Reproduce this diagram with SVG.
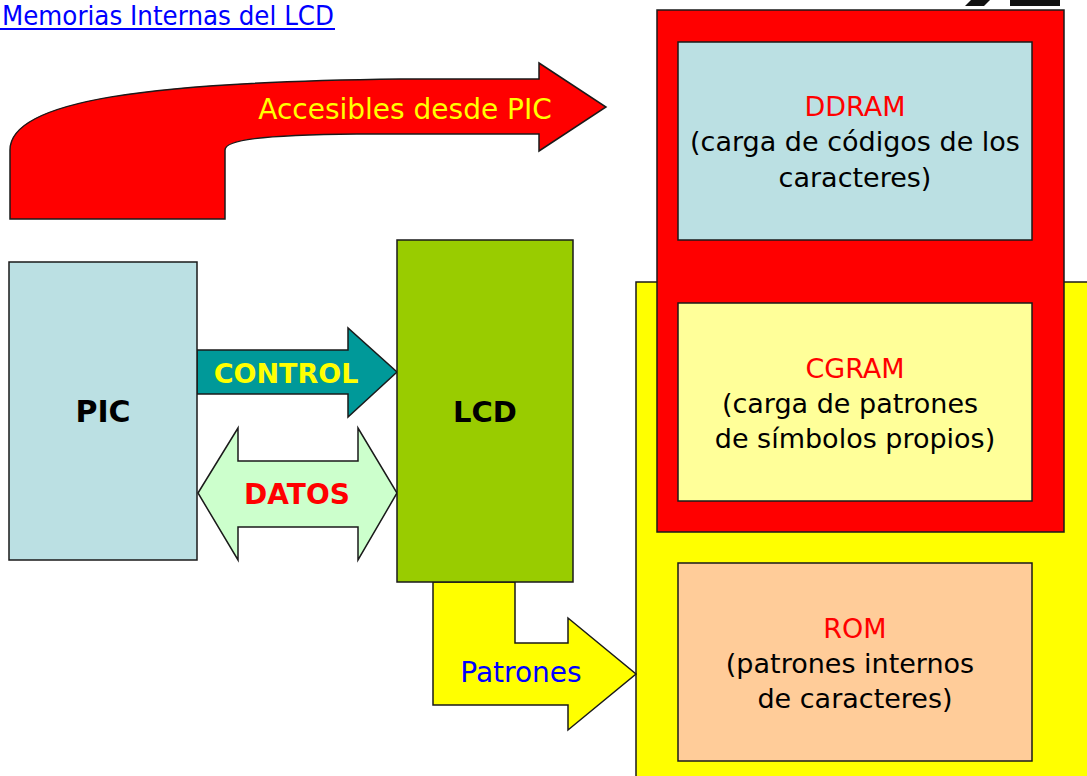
<svg xmlns="http://www.w3.org/2000/svg" width="1087" height="776" viewBox="0 0 1087 776">
<style>
.o{stroke:#1a1a1a;stroke-width:1.5}
.t{font-family:"DejaVu Sans",sans-serif;text-anchor:middle}
.m{font-size:27px;fill:#000}
.b{font-weight:bold}
</style>
<rect width="1087" height="776" fill="#fff"/>
<g id="title">
<text x="2" y="25" textLength="332" lengthAdjust="spacingAndGlyphs" style="font-family:'DejaVu Sans',sans-serif;font-size:27px;fill:#0000ff">Memorias Internas del LCD</text>
<line x1="0" y1="29" x2="335" y2="29" stroke="#0000ff" stroke-width="2"/>
</g>
<g id="logo">
<polygon points="965,6 971,0 990,0 984,6" fill="#111"/>
<rect x="1010" y="0" width="50" height="6" fill="#111"/>
</g>
<g id="mem-yellow"><rect x="636" y="282" width="470" height="510" fill="#ffff00" class="o"/></g>
<g id="mem-red"><rect x="657" y="10" width="407" height="522" fill="#ff0000" class="o"/></g>
<g id="ddram">
<rect x="678" y="42" width="354" height="198" fill="#bbe0e3" class="o"/>
<text x="855" y="116" class="t m" style="fill:#ff0000">DDRAM</text>
<text x="855" y="151" class="t m">(carga de códigos de los</text>
<text x="855" y="187" class="t m">caracteres)</text>
</g>
<g id="cgram">
<rect x="678" y="303" width="354" height="198" fill="#ffff99" class="o"/>
<text x="855" y="378" class="t m" style="fill:#ff0000">CGRAM</text>
<text x="850" y="413" class="t m">(carga de patrones</text>
<text x="855" y="448" class="t m">de símbolos propios)</text>
</g>
<g id="rom">
<rect x="678" y="563" width="354" height="198" fill="#ffcc99" class="o"/>
<text x="855" y="638" class="t m" style="fill:#ff0000">ROM</text>
<text x="850" y="673" class="t m">(patrones internos</text>
<text x="855" y="708" class="t m">de caracteres)</text>
</g>
<g id="connectors">
<path d="M10,219 L10,150 C10,100 150,82 400,79 L539,79 L539,63 L606,107 L539,151 L539,134 L357,134 C260,135 225,140 225,150 L225,219 Z" fill="#ff0000" class="o"/>
<text x="405" y="119" class="t" style="font-size:28px;fill:#ffff00">Accesibles desde PIC</text>
<path d="M197,350 L348,350 L348,328 L397,372 L348,417 L348,394 L197,394 Z" fill="#009999" class="o"/>
<text x="286" y="383" class="t b" style="font-size:27px;fill:#ffff00">CONTROL</text>
<path d="M198,493 L238,428 L238,461 L358,461 L358,428 L397,493 L358,560 L358,527 L238,527 L238,560 Z" fill="#ccffcc" class="o"/>
<text x="297" y="504" class="t b" style="font-size:28px;fill:#ff0000">DATOS</text>
<path d="M433,582 L515,582 L515,643 L568,643 L568,618 L636,674 L568,730 L568,705 L433,705 Z" fill="#ffff00" class="o"/>
<text x="521" y="682" class="t" style="font-size:28px;fill:#0000ff">Patrones</text>
</g>
<g id="pic">
<rect x="9" y="262" width="188" height="298" fill="#bbe0e3" class="o"/>
<text x="103" y="422" class="t b" style="font-size:30px;fill:#000">PIC</text>
</g>
<g id="lcd">
<rect x="397" y="240" width="176" height="342" fill="#99cc00" class="o"/>
<text x="485" y="422" class="t b" style="font-size:29px;fill:#000">LCD</text>
</g>
</svg>
